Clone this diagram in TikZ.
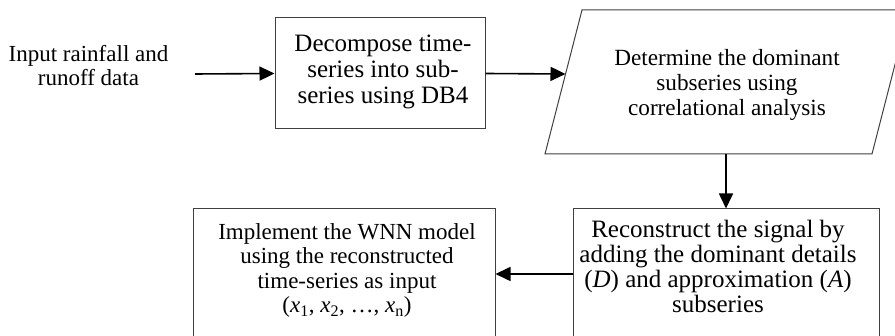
\documentclass[tikz,border=0pt]{standalone}
\usepackage{fontspec}
\setmainfont{Liberation Serif}
\usetikzlibrary{arrows.meta}
\begin{document}
\begin{tikzpicture}[x=1pt,y=-1pt,
  flowbox/.style={draw=black!75, line width=1pt, inner sep=0pt},
  flowtext/.style={align=center, inner sep=0pt},
  flowarrow/.style={line width=1.6pt, -{Triangle[length=15pt,width=14pt]}}]
\useasboundingbox (0,0) rectangle (895,336);
\clip (0,0) rectangle (895,336);

% input data label
\node[flowtext, font=\fontsize{23}{24}\selectfont] (input) at (88.5,65.2)
  {Input rainfall and\\runoff data};
\coordinate (inputOut) at (195,74);

% decomposition step
\node[flowbox, minimum width=210pt, minimum height=111pt] (decomp) at (380,73.5) {};
\node[flowtext, font=\fontsize{25}{25.8}\selectfont] (decompText) at (383,71.7)
  {Decompose time-\\series into sub-\\series using DB4};

% correlation step (parallelogram)
\coordinate (pTL) at (582,10);
\coordinate (pTR) at (909,10);
\coordinate (pBR) at (872,154);
\coordinate (pBL) at (545,154);
\draw[draw=black!75, line width=1pt] (pTL) -- (pTR) -- (pBR) -- (pBL) -- cycle;
\node[flowtext, font=\fontsize{23.2}{25}\selectfont] (dominant) at (727,84.7)
  {Determine the dominant\\subseries using\\correlational analysis};
\coordinate (paraIn) at (565.5,74);
\coordinate (paraOut) at (726,154);

% reconstruction step
\node[flowbox, minimum width=306pt, minimum height=130pt] (recon) at (726,274) {};
\node[flowtext, font=\fontsize{25}{24.7}\selectfont] (reconText) at (718,266.5)
  {Reconstruct the signal by\\adding the dominant details\\(\textit{D}) and approximation (\textit{A})\\subseries};

% WNN model step
\node[flowbox, minimum width=302pt, minimum height=130pt] (wnn) at (344,274) {};
\node[flowtext, font=\fontsize{23}{24.3}\selectfont] (wnnText) at (347,270.6)
  {Implement the WNN model\\using the reconstructed\\time-series as input\\(\textit{x}\textsubscript{1}, \textit{x}\textsubscript{2}, …, \textit{x}\textsubscript{n})};

% connectors
\draw[flowarrow] (inputOut) -- (decomp.west);
\draw[flowarrow] (decomp.east) -- (paraIn);
\draw[flowarrow] (paraOut) -- (recon.north);
\draw[flowarrow] (recon.west) -- (wnn.east);
\end{tikzpicture}
\end{document}
